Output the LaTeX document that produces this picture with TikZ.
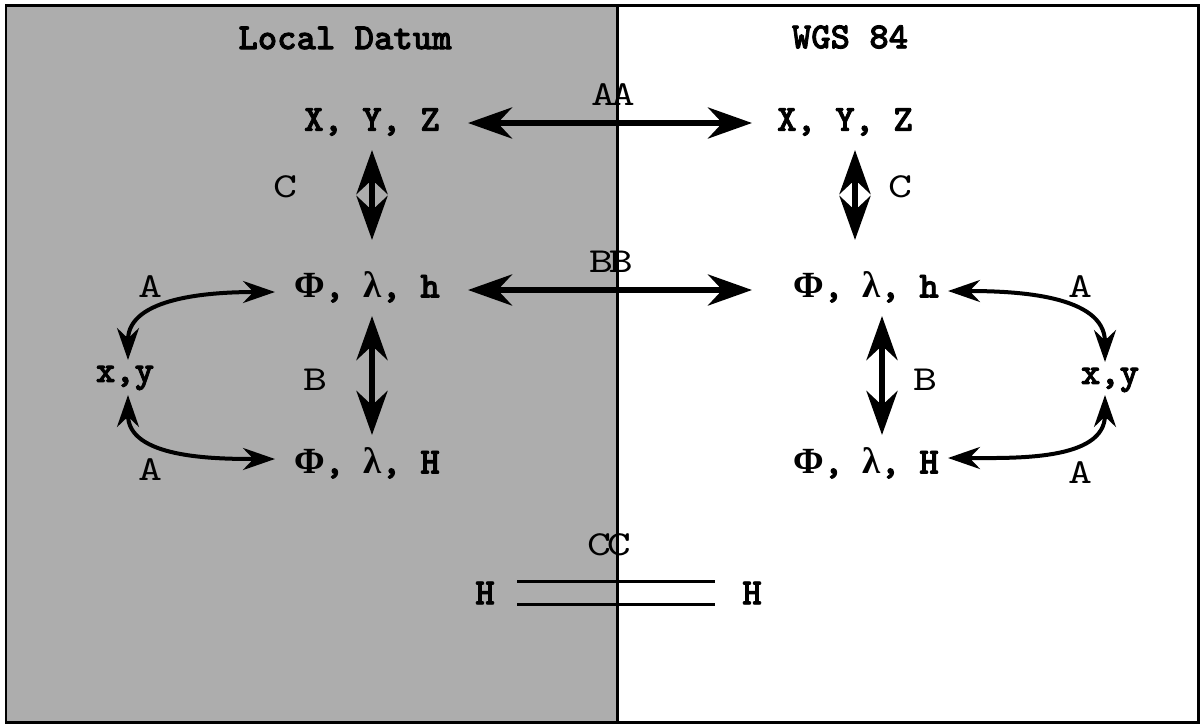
\documentclass[tikz,border=0pt]{standalone}
\usepackage{fontspec}
\setmainfont{Liberation Serif}
\newfontfamily\codebf{lmmonolt10-bold.otf}[FakeBold=2.2]
\newfontfamily\codett{lmmono10-regular.otf}[FakeStretch=1.3]
\usetikzlibrary{arrows.meta, calc}

% Greek letters in a serif face
\newcommand{\fiG}{{\rmfamily\bfseries Φ}}
\newcommand{\laG}{{\rmfamily\bfseries λ}}

\begin{document}
\begin{tikzpicture}[x=0.02cm, y=0.02cm,
    coord/.style={font=\codebf\fontsize{21}{23}\selectfont, inner sep=0pt},
    tag/.style={font=\codett\fontsize{20}{22}\selectfont, inner sep=0pt},
    big/.style={{Stealth[length=0.88cm, width=0.62cm]}-{Stealth[length=0.88cm, width=0.62cm]},
                line width=0.12cm},
    curv/.style={{Stealth[length=0.64cm, width=0.44cm]}-{Stealth[length=0.64cm, width=0.44cm]},
                 line width=0.08cm},
    eq/.style={line width=0.06cm}
  ]
  \useasboundingbox (0,0) rectangle (1201,-724);
  \fill[white] (0,0) rectangle (1201,-724);
  \fill[black!32] (6,-5) rectangle (617,-722);
  \draw[line width=0.06cm] (6,-5) rectangle (1198,-722);
  \draw[line width=0.06cm] (617,-5) -- (617,-722);

  % titles
  \node[coord] (ld)  at (345,-38) {Local Datum};
  \node[coord] (wgs) at (850,-37) {WGS 84};

  % local datum side
  \node[coord] (lxyz) at (372,-122) {X, Y, Z};
  \node[coord] (lplh) at (367,-287) {\fiG, \laG, h};
  \node[coord] (lplH) at (367,-463) {\fiG, \laG, H};
  \node[coord] (lxy)  at (125,-378) {x,y};

  % WGS 84 side
  \node[coord] (rxyz) at (845,-122) {X, Y, Z};
  \node[coord] (rplh) at (866,-287) {\fiG, \laG, h};
  \node[coord] (rplH) at (866,-463) {\fiG, \laG, H};
  \node[coord] (rxy)  at (1110,-380) {x,y};

  % heights
  \node[coord] (hl) at (485,-593) {H};
  \node[coord] (hr) at (752,-593) {H};

  % labels
  \node[tag] (tAA) at (613,-95) {A\kern-0.12em A};
  \node[tag] (tBB) at (611,-262) {B\kern-0.12em B};
  \node[tag] (tCC) at (609,-545) {C\kern-0.12em C};
  \node[tag] (tCl) at (285,-187) {C};
  \node[tag] (tCr) at (900,-187) {C};
  \node[tag] (tBl) at (315,-380) {B};
  \node[tag] (tBr) at (925,-380) {B};
  \node[tag] (tAl1) at (150,-287) {A};
  \node[tag] (tAl2) at (150,-470) {A};
  \node[tag] (tAr1) at (1080,-287) {A};
  \node[tag] (tAr2) at (1080,-473) {A};

  % transformations between datums
  \draw[big] ($(lxyz)+(96,-1)$) -- ($(rxyz)+(-93,-1)$);
  \draw[big] ($(lplh)+(101,-3)$) -- ($(rplh)+(-114,-3)$);

  % within each datum
  \draw[big] ($(lxyz)+(0,-28)$) -- ($(lplh)+(5,47)$);
  \draw[big] ($(lplh)+(5,-29)$) -- ($(lplH)+(5,28)$);
  \draw[big] ($(rxyz)+(10,-28)$) -- ($(rplh)+(-11,47)$);
  \draw[big] ($(rplh)+(16,-29)$) -- ($(rplH)+(16,28)$);

  \draw[curv] ($(lxy)+(3,18)$) to[out=90, in=180] ($(lplh)+(-92,-5)$);
  \draw[curv] ($(lxy)+(3,-17)$) to[out=-90, in=180] ($(lplH)+(-92,4)$);
  \draw[curv] ($(rxy)+(-5,18)$) to[out=90, in=0] ($(rplh)+(82,-4)$);
  \draw[curv] ($(rxy)+(-5,-15)$) to[out=-90, in=0] ($(rplH)+(82,5)$);

  % orthometric height is the same
  \draw[eq] ($(hl)+(32,12)$) -- ($(hr)+(-37,12)$);
  \draw[eq] ($(hl)+(32,-11)$) -- ($(hr)+(-37,-11)$);
\end{tikzpicture}
\end{document}
